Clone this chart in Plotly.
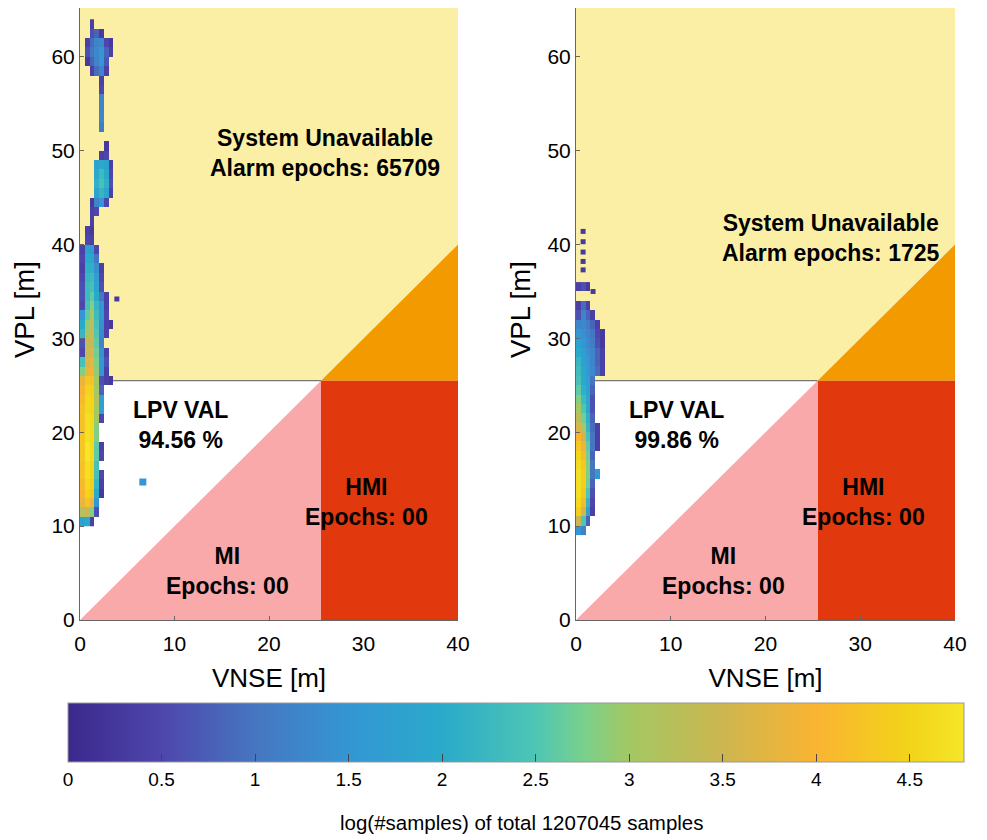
import plotly.graph_objects as go

# ---------------- data ----------------
VAL = 25.5          # LPV vertical alert limit boundary [m]
X_MAX = 40.0
Y_MAX = 65.2
BIN_W = 0.5         # VNSE bin width [m]
BIN_H = 1.0         # VPL bin height [m]
N_COLS = 8          # VNSE bins 0..4 m

# log10(#samples) per VPL row (row lower edge), columns = VNSE bins of 0.5 m from 0
left_rows = [10, 11, 12, 13, 14, 15, 16, 17, 18, 19, 20, 21, 22, 23, 24, 25,
             26, 27, 28, 29, 30, 31, 32, 33, 34, 35, 36, 37, 38, 39, 40, 41,
             42, 43, 44, 45, 46, 47, 48, 49, 50, 51, 52, 53, 54, 55, 56, 57,
             58, 59, 60, 61, 62, 63]
left_vals = [
    [1.8, 2.0, 0.4],
    [3.2, 3.5, 2.8, 0.6],
    [3.8, 4.2, 3.8, 1.5],
    [4.0, 4.5, 4.3, 2.0, 0.3],
    [4.1, 4.6, 4.4, 2.2, 0.4],
    [4.2, 4.7, 4.5, 2.4, 0.5],
    [4.2, 4.7, 4.5, 2.4],
    [4.3, 4.8, 4.6, 2.6, 0.5],
    [4.3, 4.8, 4.6, 2.6, 0.4],
    [4.3, 4.7, 4.6, 2.8],
    [4.2, 4.7, 4.6, 2.8],
    [4.2, 4.7, 4.6, 3.0, 0.5],
    [4.2, 4.6, 4.5, 3.0, 1.8],
    [4.1, 4.6, 4.5, 3.2, 1.8],
    [4.0, 4.5, 4.4, 3.0, 0.8],
    [3.8, 4.3, 4.2, 3.0, 0.6, 0.4, 0.3],
    [2.8, 3.8, 3.9, 2.9, 1.5, 0.4],
    [2.4, 3.6, 3.8, 2.8, 1.6, 0.6],
    [0.5, 3.4, 3.6, 2.7, 1.4, 0.4],
    [0.6, 3.3, 3.5, 2.6, 1.2],
    [2.2, 3.1, 3.4, 2.5, 1.3, 0.4],
    [2.0, 2.9, 3.2, 2.4, 1.4, 0.4, 0.3],
    [1.5, 2.6, 3.0, 2.3, 1.6, 0.5],
    [0.5, 2.4, 2.8, 2.2, 1.5, 0.4],
    [0.6, 2.3, 2.6, 2.0, 1.0, 0.4],
    [0.6, 2.3, 2.4, 1.8, 0.6],
    [0.5, 2.2, 2.3, 1.7, 0.5],
    [0.4, 2.1, 2.1, 1.4, 0.4],
    [0.5, 2.0, 1.9, 1.0],
    [0.4, 1.8, 1.6, 0.5],
    [None, 0.5, 0.4],
    [None, 0.4, 0.3],
    [None, None, 0.4],
    [None, None, 0.4, 0.5],
    [None, None, 0.3, 1.2, 1.5, 0.5],
    [None, None, None, 1.8, 2.2, 1.9, 0.4],
    [None, None, None, 2.1, 2.4, 2.1, 0.6],
    [None, None, None, 2.0, 2.3, 2.0, 0.5],
    [None, None, None, 1.8, 2.0, 1.8, 0.4],
    [None, None, None, None, 0.4, 0.5],
    [None, None, None, None, None, 0.3],
    [],
    [None, None, None, None, 1.1],
    [None, None, None, None, 1.3],
    [None, None, None, None, 1.2],
    [None, None, None, None, 1.2],
    [None, None, None, None, 0.5],
    [None, None, None, None, 0.4],
    [None, None, 0.4, 0.9, 1.2, 0.4],
    [None, 0.3, 0.8, 1.2, 1.5, 0.7],
    [None, 0.6, 1.0, 1.3, 1.5, 0.8, 0.4],
    [None, 0.4, 0.9, 1.2, 1.3, 0.5, 0.3],
    [None, None, 0.6, 0.8, 0.3],
    [None, None, 0.4],
]
# isolated left cells
left_iso_big_x = [6.65]
left_iso_big_y = [14.7]
left_iso_big_z = [1.5]
left_iso_small_x = [3.9]
left_iso_small_y = [34.2]
left_iso_small_z = [0.3]

right_rows = [9, 10, 11, 12, 13, 14, 15, 16, 17, 18, 19, 20, 21, 22, 23, 24,
              25, 26, 27, 28, 29, 30, 31, 32, 33, 34, 35]
right_vals = [
    [1.5, 1.2],
    [3.5, 2.5, 0.8],
    [4.4, 3.6, 1.8, 0.4],
    [4.6, 4.1, 2.2, 0.5],
    [4.7, 4.3, 2.5, 0.6],
    [4.7, 4.4, 2.7, 0.8],
    [4.7, 4.4, 2.8, 1.0, 1.5],
    [4.6, 4.3, 2.8, 1.0],
    [4.5, 4.1, 2.7, 0.8],
    [4.3, 3.9, 2.6, 1.0, 0.4],
    [4.0, 3.5, 2.4, 1.0, 0.4],
    [3.6, 3.0, 2.2, 0.9, 0.4],
    [3.3, 2.7, 2.1, 0.8],
    [3.0, 2.5, 2.0, 0.6],
    [2.8, 2.3, 1.9, 0.6],
    [2.6, 2.1, 1.8, 0.8],
    [2.4, 2.0, 1.7, 1.0],
    [2.3, 1.9, 1.6, 1.3, 0.9, 0.4],
    [2.2, 1.8, 1.5, 1.2, 0.8, 0.4],
    [2.0, 1.7, 1.4, 1.2, 0.8, 0.4],
    [1.8, 1.5, 1.3, 1.1, 0.6, 0.3],
    [1.5, 1.4, 1.2, 1.0, 0.5, 0.3],
    [1.2, 1.3, 1.1, 0.8, 0.4],
    [0.6, 1.2, 0.8, 0.4],
    [0.4, 0.9, 0.4],
    [],
    [0.4, 0.6, 0.3],
]
# isolated right cells
right_iso_x = [0.75, 0.75, 0.75, 0.75, 0.75, 1.8]
right_iso_y = [41.4, 40.3, 39.2, 38.2, 37.3, 35.0]
right_iso_z = [0.3, 0.3, 0.3, 0.3, 0.3, 0.3]

Z_MAX = 4.79
cbar_ticks = [0, 0.5, 1, 1.5, 2, 2.5, 3, 3.5, 4, 4.5]
cbar_ticktext = ["0", "0.5", "1", "1.5", "2", "2.5", "3", "3.5", "4", "4.5"]
cbar_title = "log(#samples) of total 1207045 samples"
x_title = "VNSE [m]"
y_title = "VPL [m]"

panels = [
    dict(rows=left_rows, vals=left_vals, alarm="65709", avail="94.56 %",
         sys_y=49.8, sys_x=25.9, ytitle_px=25),
    dict(rows=right_rows, vals=right_vals, alarm="1725", avail="99.86 %",
         sys_y=40.7, sys_x=26.9, ytitle_px=521),
]

# ---------------- styling ----------------
FONT = "Liberation Sans, Arial, Helvetica, sans-serif"
YELLOW = "#FBEFA6"
ORANGE = "#F29A00"
RED = "#E2380E"
PINK = "#F9A9A9"

colorscale = [
    [0.0, "rgb(60,40,140)"],
    [0.104, "rgb(78,70,172)"],
    [0.209, "rgb(70,118,192)"],
    [0.313, "rgb(52,150,212)"],
    [0.418, "rgb(42,170,202)"],
    [0.522, "rgb(78,198,180)"],
    [0.574, "rgb(120,208,142)"],
    [0.626, "rgb(163,200,100)"],
    [0.731, "rgb(205,182,80)"],
    [0.835, "rgb(250,180,50)"],
    [0.939, "rgb(242,212,25)"],
    [1.0, "rgb(245,230,40)"],
]

# page body has an 8 px margin; figure is sized so the page is 987 x 840
OFF = 8
W, H = 987 - OFF, 840 - OFF


def fx(px):
    return (px - OFF) / W


def fy(py):
    return 1 - (py - OFF) / H


fig = go.Figure()

x_domains = [[fx(80), fx(458)], [fx(576), fx(955)]]
y_domain = [fy(620), fy(8)]

x_centers = [BIN_W * c + BIN_W / 2 for c in range(N_COLS)]

shapes = []
annotations = []


def path(pts):
    return "M " + " L ".join(f"{a},{b}" for a, b in pts) + " Z"


for i, p in enumerate(panels):
    xa = "x" if i == 0 else "x2"
    ya = "y" if i == 0 else "y2"
    z = []
    for r in p["vals"]:
        z.append(list(r) + [None] * (N_COLS - len(r)))
    y_centers = [r + BIN_H / 2 for r in p["rows"]]
    fig.add_trace(go.Heatmap(
        x=x_centers, y=y_centers, z=z, coloraxis="coloraxis",
        xaxis=xa, yaxis=ya, hoverongaps=False, zsmooth=False,
    ))

    region_defs = [
        (YELLOW, [(0, VAL), (VAL, VAL), (X_MAX, X_MAX), (X_MAX, Y_MAX), (0, Y_MAX)]),
        (ORANGE, [(VAL, VAL), (X_MAX, X_MAX), (X_MAX, VAL)]),
        (RED, [(VAL, 0), (X_MAX, 0), (X_MAX, VAL), (VAL, VAL)]),
        (PINK, [(0, 0), (VAL, VAL), (VAL, 0)]),
    ]
    for col, pts in region_defs:
        shapes.append(dict(type="path", path=path(pts), xref=xa, yref=ya,
                           fillcolor=col, line=dict(width=0), layer="below"))
    shapes.append(dict(type="line", x0=0, x1=VAL, y0=VAL, y1=VAL, xref=xa, yref=ya,
                       line=dict(color="#777", width=1.2), layer="below"))

    bold = dict(family=FONT, size=23, color="black")
    annotations += [
        dict(x=p["sys_x"], y=p["sys_y"], xref=xa, yref=ya,
             text=f"<b>System Unavailable<br>Alarm epochs: {p['alarm']}</b>",
             showarrow=False, font=bold, align="center"),
        dict(x=10.6, y=20.8, xref=xa, yref=ya,
             text=f"<b>LPV VAL<br>{p['avail']}</b>",
             showarrow=False, font=bold, align="center"),
        dict(x=30.3, y=12.6, xref=xa, yref=ya,
             text="<b>HMI<br>Epochs: 00</b>",
             showarrow=False, font=bold, align="center"),
        dict(x=15.6, y=5.2, xref=xa, yref=ya,
             text="<b>MI<br>Epochs: 00</b>",
             showarrow=False, font=bold, align="center"),
        # y-axis title (rotated), placed as annotation to sit close to the page edge
        dict(x=fx(p["ytitle_px"]), y=fy(310), xref="paper", yref="paper",
             xanchor="center", yanchor="middle", textangle=-90,
             text=y_title, showarrow=False,
             font=dict(family=FONT, size=27.5, color="black")),
    ]

# isolated cells as square markers
fig.add_trace(go.Scatter(
    x=left_iso_big_x, y=left_iso_big_y, mode="markers", xaxis="x", yaxis="y",
    marker=dict(symbol="square", size=7, color=left_iso_big_z, coloraxis="coloraxis",
                line=dict(width=0)), showlegend=False, hoverinfo="skip"))
fig.add_trace(go.Scatter(
    x=left_iso_small_x, y=left_iso_small_y, mode="markers", xaxis="x", yaxis="y",
    marker=dict(symbol="square", size=5, color=left_iso_small_z, coloraxis="coloraxis",
                line=dict(width=0)), showlegend=False, hoverinfo="skip"))
fig.add_trace(go.Scatter(
    x=right_iso_x, y=right_iso_y, mode="markers", xaxis="x2", yaxis="y2",
    marker=dict(symbol="square", size=5, color=right_iso_z, coloraxis="coloraxis",
                line=dict(width=0)), showlegend=False, hoverinfo="skip"))

tickfont = dict(family=FONT, size=21, color="black")
axis_common = dict(showgrid=False, zeroline=False, showline=True, linecolor="#666",
                   linewidth=1, ticks="inside", ticklen=4, tickcolor="#666",
                   tickfont=tickfont, mirror=False, automargin=False)

layout_axes = {}
for i in range(2):
    sfx = "" if i == 0 else "2"
    layout_axes["xaxis" + sfx] = dict(
        axis_common, domain=x_domains[i], range=[0, X_MAX], tickvals=[0, 10, 20, 30, 40],
        anchor="y" + sfx, ticklabelstandoff=5,
        title=dict(text=x_title, font=dict(family=FONT, size=26, color="black"),
                   standoff=14))
    layout_axes["yaxis" + sfx] = dict(
        axis_common, domain=y_domain, range=[0, Y_MAX],
        tickvals=[0, 10, 20, 30, 40, 50, 60],
        anchor="x" + sfx)

fig.update_layout(
    width=W, height=H, margin=dict(l=0, r=0, t=0, b=0, autoexpand=False),
    paper_bgcolor="white", plot_bgcolor="white",
    showlegend=False, shapes=shapes, annotations=annotations + [
        dict(x=fx(522), y=fy(822), xref="paper", yref="paper",
             xanchor="center", yanchor="middle",
             text=cbar_title, showarrow=False,
             font=dict(family=FONT, size=20.5, color="black"))],
    coloraxis=dict(
        colorscale=colorscale, cmin=0, cmax=Z_MAX,
        colorbar=dict(
            orientation="h", x=fx(516), xanchor="center", y=fy(703), yanchor="top",
            len=896 / W, lenmode="fraction", thickness=59, thicknessmode="pixels",
            xpad=0, ypad=0, outlinewidth=1, outlinecolor="#999",
            tickvals=cbar_ticks, ticktext=cbar_ticktext, ticks="inside", ticklen=8,
            tickcolor="#444", tickfont=dict(family=FONT, size=19, color="black"),
        ),
    ),
    **layout_axes,
)

fig.write_html("out.html")
